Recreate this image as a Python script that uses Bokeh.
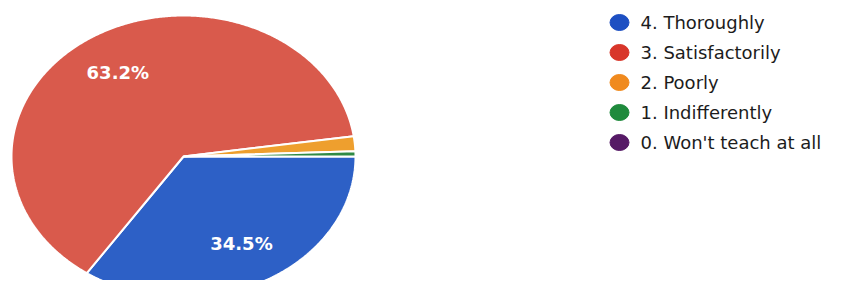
import numpy as np
from bokeh.plotting import figure
from bokeh.models import ColumnDataSource, Range1d
from bokeh.core.properties import value
from bokeh.embed import file_html
from bokeh.resources import INLINE

# ---- data ----
categories = ["4. Thoroughly", "3. Satisfactorily", "2. Poorly",
              "1. Indifferently", "0. Won't teach at all"]
percents = [34.5, 63.2, 1.7, 0.6, 0.0]
slice_colors = ["#2d60c6", "#d95a4c", "#ee9f2e", "#2f8a45", "#5b1d6b"]
legend_colors = ["#1d4fc2", "#d8362a", "#f08a1e", "#1f8a3c", "#561a66"]

W, H = 828, 280
p = figure(width=W, height=H, output_backend="svg", toolbar_location=None,
           x_range=Range1d(0, W), y_range=Range1d(0, H),
           min_border=0, outline_line_color=None)
p.axis.visible = False
p.grid.visible = False
p.background_fill_color = "white"
p.border_fill_color = "white"

# pie geometry (elliptical, as in the reference)
cx, cy, rx, ry = 183, 124, 172, 141
fr = np.array(percents) / 100.0
ends = -np.cumsum(fr) * 2 * np.pi
starts = np.concatenate([[0.0], ends[:-1]])

xs, ys, cols = [], [], []
for s, e, c in zip(starts, ends, slice_colors):
    if s == e:
        continue
    t = np.linspace(s, e, max(4, int(abs(e - s) * 120)))
    xs.append(np.concatenate([[cx], cx + rx * np.cos(t)]).tolist())
    ys.append(np.concatenate([[cy], cy + ry * np.sin(t)]).tolist())
    cols.append(c)
p.patches(xs=xs, ys=ys, fill_color=cols, line_color="white", line_width=2)

# percentage labels
lx, ly, lt = [], [], []
for s, e, v in zip(starts, ends, percents):
    if v < 5:
        continue
    m = (s + e) / 2
    lx.append(cx + 0.72 * rx * np.cos(m))
    ly.append(cy + 0.70 * ry * np.sin(m))
    lt.append(f"{v:.1f}%")
p.text(x=lx, y=ly, text=lt, text_color="white", text_font=value("DejaVu Sans"),
       text_font_style="bold", text_font_size="18px",
       text_align="center", text_baseline="middle")

# legend
top_y, step = 258, 30
ly2 = [top_y - i * step for i in range(len(categories))]
src = ColumnDataSource(dict(x=[619] * len(categories), y=ly2,
                            tx=[640] * len(categories),
                            c=legend_colors, t=categories))
p.ellipse(x="x", y="y", width=19, height=16, fill_color="c",
          line_color="c", source=src)
p.text(x="tx", y="y", text="t", text_color="#1c1c1c",
       text_font=value("DejaVu Sans"), text_font_size="18px",
       text_baseline="middle", text_align="left", source=src)

open("out.html", "w").write(file_html(p, INLINE))
